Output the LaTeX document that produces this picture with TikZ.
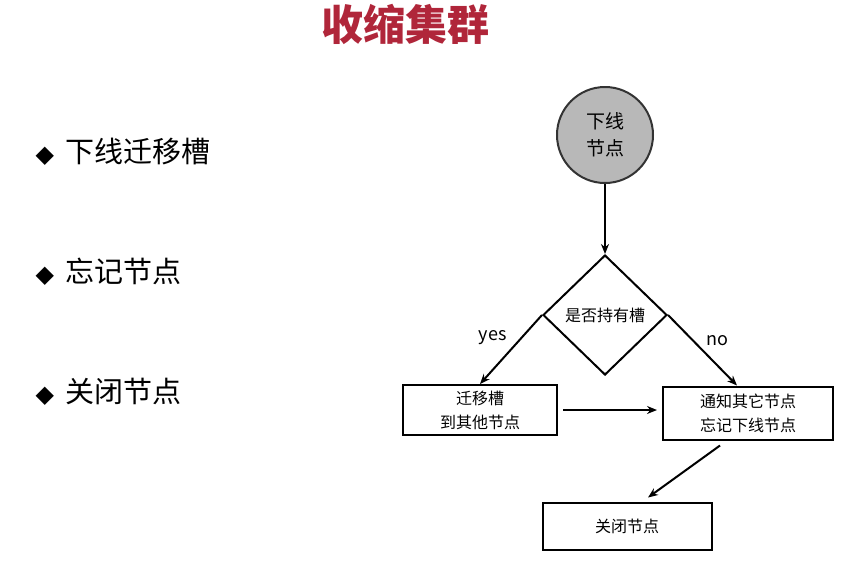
\documentclass[tikz,border=0pt]{standalone}
\usepackage{fontspec}
\setmainfont{Noto Sans CJK SC}
\newfontfamily\symfont{DejaVu Sans}
\usetikzlibrary{arrows.meta, positioning, shapes.geometric, calc}
\definecolor{titlered}{HTML}{B0263A}
\begin{document}
\begin{tikzpicture}[x=1pt,y=-1pt,>={Stealth[length=10pt,width=8pt]},
        thick line/.style={line width=2pt},
        procbox/.style={draw,line width=2pt,minimum width=154pt,minimum height=50pt,align=center,font=\fontsize{16}{24}\selectfont},
        bullet/.style={anchor=west,font=\fontsize{29}{32}\selectfont}]
  \useasboundingbox (0,0) rectangle (856,560);
  \node[font=\fontsize{42}{46}\bfseries,text=titlered] (title) at (405,24) {收缩集群};

  \node[bullet] (b1) at (32,152) {{\symfont\fontsize{24}{28}\selectfont◆}\hspace{12pt}下线迁移槽};
  \node[bullet] (b2) at (32,272) {{\symfont\fontsize{24}{28}\selectfont◆}\hspace{12pt}忘记节点};
  \node[bullet] (b3) at (32,392) {{\symfont\fontsize{24}{28}\selectfont◆}\hspace{12pt}关闭节点};

  \node[circle,draw=black!80,fill=black!28,line width=2pt,minimum size=96pt,align=center,
        font=\fontsize{19}{27}\selectfont] (offline) at (605,135) {下线\\节点};
  \node[diamond,draw,line width=2pt,minimum width=124pt,minimum height=120pt,inner sep=0pt,
        font=\fontsize{16}{18}\selectfont] (hasslot) at (605,315) {是否持有槽};
  \node[procbox] (migrate) at (480,410) {迁移槽\\到其他节点};
  \node[procbox,minimum width=170pt,minimum height=53pt] (forget) at (748,413) {通知其它节点\\忘记下线节点};
  \node[procbox,minimum width=169pt,minimum height=47pt] (shutdown) at (627,526) {关闭节点};

  \draw[->,thick line] (offline) -- (hasslot);
  \draw[->,thick line] (hasslot.west) -- node[above left,font=\fontsize{18}{20}\selectfont] {yes} (migrate.north);
  \draw[->,thick line] (hasslot.east) -- node[above right,font=\fontsize{18}{20}\selectfont] {no} (forget.north -| 737,0);
  \draw[->,thick line] ($(migrate.east)+(5,0)$) -- ($(forget.west)+(-5,-3)$);
  \draw[->,thick line] ($(forget.south)+(-28,5)$) -- ($(shutdown.north)+(21,-4)$);
\end{tikzpicture}
\end{document}
